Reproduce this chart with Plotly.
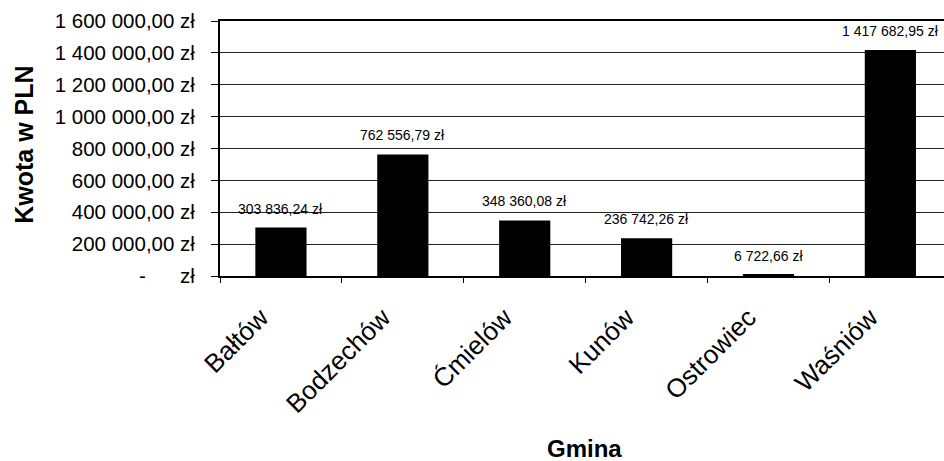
import plotly.graph_objects as go

gminy = ["Bałtów", "Bodzechów", "Ćmielów", "Kunów", "Ostrowiec", "Waśniów"]
kwoty = [303836.24, 762556.79, 348360.08, 236742.26, 6722.66, 1417682.95]
etykiety = ["303 836,24 zł", "762 556,79 zł", "348 360,08 zł", "236 742,26 zł", "6 722,66 zł", "1 417 682,95 zł"]
y_ticks = [0, 200000, 400000, 600000, 800000, 1000000, 1200000, 1400000, 1600000]
y_tick_labels = ["-      zł", "200 000,00 zł", "400 000,00 zł", "600 000,00 zł", "800 000,00 zł",
                 "1 000 000,00 zł", "1 200 000,00 zł", "1 400 000,00 zł", "1 600 000,00 zł"]

FONT = "Liberation Sans, Arial, sans-serif"

fig = go.Figure()
fig.add_trace(go.Bar(x=gminy, y=kwoty, marker=dict(color="black", line=dict(width=0)), width=0.42,
                     hoverinfo="skip"))

for g, v, t in zip(gminy, kwoty, etykiety):
    fig.add_annotation(x=g, y=v, text=t, showarrow=False, xref="x", yref="y",
                       yanchor="bottom", yshift=9, font=dict(size=14, color="black", family=FONT))

fig.add_annotation(text="<b>Kwota w PLN</b>", xref="paper", yref="paper", x=-0.271, y=0.514,
                   xanchor="center", yanchor="middle", textangle=-90, showarrow=False,
                   font=dict(size=25, color="black", family=FONT))
fig.add_annotation(text="<b>Gmina</b>", xref="paper", yref="paper", x=0.504, y=-0.678,
                   xanchor="center", yanchor="middle", showarrow=False,
                   font=dict(size=24, color="black", family=FONT))

fig.update_layout(
    width=944, height=461,
    margin=dict(l=220, r=0, t=21, b=185),
    paper_bgcolor="white", plot_bgcolor="white",
    showlegend=False,
    font=dict(family=FONT, color="black"),
)
fig.update_xaxes(
    type="category", range=[-0.5, 5.44],
    showline=True, linecolor="black", linewidth=2, mirror=True,
    ticks="outside", tickson="boundaries", ticklen=5, tickcolor="black",
    tickangle=-45, ticklabelstandoff=14, ticklabelshift=-20,
    tickfont=dict(size=26, color="black", family=FONT),
    showgrid=False,
)
fig.update_yaxes(
    range=[0, 1600000], tickvals=y_ticks, ticktext=y_tick_labels,
    showline=True, linecolor="black", linewidth=2,
    ticks="outside", ticklen=7, tickcolor="black",
    ticklabelstandoff=12,
    tickfont=dict(size=20.5, color="black", family=FONT),
    showgrid=True, gridcolor="#222", gridwidth=1, zeroline=False,
)

fig.write_html("out.html", config={"displayModeBar": False},
               post_script="document.body.style.margin='0';document.body.style.overflow='hidden';")
